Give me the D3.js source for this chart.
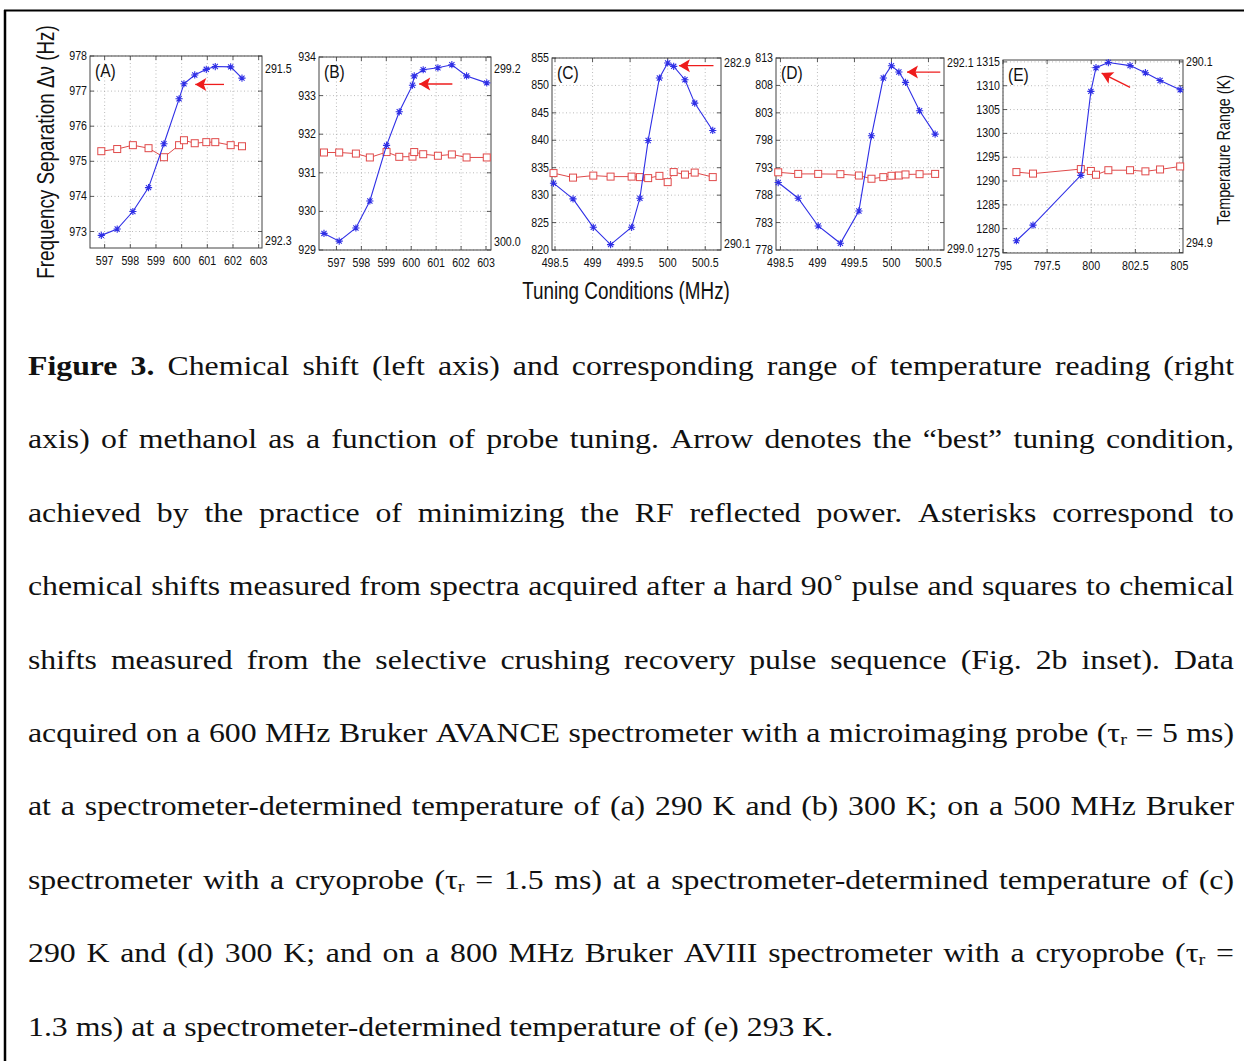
<!DOCTYPE html>
<html>
<head>
<meta charset="utf-8">
<script src="https://cdn.jsdelivr.net/npm/d3@7"></script>
<style>
  body { margin: 0; background: #fff; }
  svg { display: block; }
  .lbl { font-family: "Liberation Sans", Arial, sans-serif; fill: #111; }
  .cap { font-family: "Liberation Serif", "Times New Roman", serif; font-size: 26.5px; fill: #111; }
</style>
</head>
<body>
<svg id="fig" width="1244" height="1061"></svg>
<script>
// ---- values ----
const panelNames = ["(A)", "(B)", "(C)", "(D)", "(E)"];

// tuning (MHz), chemical shift (Hz), temperature range (K)
const tuneA  = [596.87, 597.49, 598.10, 598.71, 599.31, 599.90, 600.09, 600.51, 600.96, 601.31, 601.91, 602.35];
const shiftA = [972.89, 973.07, 973.57, 974.25, 975.50, 976.78, 977.21, 977.46, 977.62, 977.70, 977.69, 977.37];
const tempA  = [291.884, 291.874, 291.856, 291.870, 291.912, 291.856, 291.833, 291.847, 291.842, 291.842, 291.856, 291.861];

const tuneB  = [596.50, 597.11, 597.78, 598.34, 599.01, 599.52, 600.05, 600.12, 600.48, 601.07, 601.63, 602.22, 603.03];
const shiftB = [929.43, 929.23, 929.57, 930.27, 931.71, 932.58, 933.27, 933.51, 933.67, 933.72, 933.80, 933.51, 933.33];
const tempB  = [299.590, 299.590, 299.595, 299.613, 299.588, 299.610, 299.609, 299.588, 299.598, 299.605, 299.599, 299.613, 299.613];

const tuneC  = [498.48, 498.74, 499.01, 499.24, 499.52, 499.63, 499.74, 499.89, 500.00, 500.08, 500.23, 500.36, 500.60];
const shiftC = [832.18, 829.32, 824.14, 820.98, 824.14, 829.44, 839.97, 851.35, 854.09, 853.48, 851.04, 846.78, 841.79];
const tempC  = [287.28, 287.46, 287.38, 287.42, 287.42, 287.44, 287.48, 287.39, 287.64, 287.24, 287.34, 287.26, 287.44];

const tuneD  = [498.47, 498.74, 499.01, 499.31, 499.56, 499.73, 499.89, 500.00, 500.10, 500.19, 500.38, 500.59];
const shiftD = [790.30, 787.44, 782.38, 779.22, 785.12, 798.82, 809.35, 811.60, 810.44, 808.56, 803.38, 799.12];
const tempD  = [296.17, 296.23, 296.23, 296.24, 296.29, 296.41, 296.35, 296.30, 296.29, 296.25, 296.24, 296.23];

const tuneE  = [795.76, 796.70, 799.41, 799.98, 800.27, 800.97, 802.20, 803.07, 803.90, 805.04];
const shiftE = [1277.47, 1280.74, 1291.19, 1308.82, 1313.79, 1314.86, 1314.22, 1312.73, 1311.09, 1309.17];
const tempE  = [293.03, 293.07, 292.95, 293.00, 293.10, 292.98, 292.98, 293.01, 292.96, 292.88];

// axis domains and tick labels
const xDomains = [[596.43, 603.13], [596.30, 603.20], [498.46, 500.71], [498.44, 500.71], [795.0, 805.2]];
const yDomains = [[972.53, 978], [929, 934], [820, 855], [778, 813], [1274.9, 1315.4]];
const xTicks = [
  [597, 598, 599, 600, 601, 602, 603],
  [597, 598, 599, 600, 601, 602, 603],
  [498.5, 499, 499.5, 500, 500.5],
  [498.5, 499, 499.5, 500, 500.5],
  [795, 797.5, 800, 802.5, 805]
];
const yTicks = [
  [973, 974, 975, 976, 977, 978],
  [929, 930, 931, 932, 933, 934],
  [820, 825, 830, 835, 840, 845, 850, 855],
  [778, 783, 788, 793, 798, 803, 808, 813],
  [1275, 1280, 1285, 1290, 1295, 1300, 1305, 1310, 1315]
];
// right-axis labels (K) and the left-axis value they sit at
const rightTicks  = [["291.5", "292.3"], ["299.2", "300.0"], ["282.9", "290.1"], ["292.1", "299.0"], ["290.1", "294.9"]];
const rightAnchor = [[977.64, 972.74], [933.71, 929.23], [854.09, 821.10], [812.09, 778.31], [1315.0, 1277.12]];

// "best tuning" arrows: tail -> tip, in data units
const arrows = [
  [[601.65, 977.19], [600.53, 977.19]],
  [[601.65, 933.30], [600.32, 933.30]],
  [[500.61, 853.60], [500.15, 853.60]],
  [[500.66, 810.44], [500.21, 810.44]],
  [[802.20, 1309.67], [800.59, 1312.65]]
];

const captionLines = [
  "§Figure §3. Chemical shift (left axis) and corresponding range of temperature reading (right",
  "axis) of methanol as a function of probe tuning. Arrow denotes the “best” tuning condition,",
  "achieved by the practice of minimizing the RF reflected power. Asterisks correspond to",
  "chemical shifts measured from spectra acquired after a hard 90˚ pulse and squares to chemical",
  "shifts measured from the selective crushing recovery pulse sequence (Fig. 2b inset). Data",
  "acquired on a 600 MHz Bruker AVANCE spectrometer with a microimaging probe (τ_r = 5 ms)",
  "at a spectrometer-determined temperature of (a) 290 K and (b) 300 K; on a 500 MHz Bruker",
  "spectrometer with a cryoprobe (τ_r = 1.5 ms) at a spectrometer-determined temperature of (c)",
  "290 K and (d) 300 K; and on a 800 MHz Bruker AVIII spectrometer with a cryoprobe (τ_r =",
  "1.3 ms) at a spectrometer-determined temperature of (e) 293 K."
];

// ---- layout ----
const boxes = [
  {l: 90,  r: 262,  t: 56, b: 248},
  {l: 319, r: 491,  t: 57, b: 250},
  {l: 552, r: 721,  t: 58, b: 250},
  {l: 776, r: 944,  t: 58, b: 250},
  {l: 1003, r: 1183, t: 60, b: 253}
];
const tunes = [tuneA, tuneB, tuneC, tuneD, tuneE];
const shifts = [shiftA, shiftB, shiftC, shiftD, shiftE];
const temps = [tempA, tempB, tempC, tempD, tempE];

const blue = "#2f2fe6";
const red = "#e04a4a";
const NARROW = 0.82;   // condensed sans look
const WIDE = 1.2;      // caption glyphs are stretched

const svg = d3.select("#fig");

// open frame (top + left)
svg.append("line").attr("x1", 4).attr("x2", 1244).attr("y1", 10.5).attr("y2", 10.5)
  .attr("stroke", "#000").attr("stroke-width", 2);
svg.append("line").attr("x1", 5).attr("x2", 5).attr("y1", 10).attr("y2", 1061)
  .attr("stroke", "#000").attr("stroke-width", 2.5);

const asterisk = (s) => {
  const d = s * 0.72;
  return `M${-s},0H${s}M0,${-s}V${s}M${-d},${-d}L${d},${d}M${-d},${d}L${d},${-d}`;
};
const nt = (px, py) => `translate(${px},${py}) scale(${NARROW},1)`;

boxes.forEach((bx, i) => {
  const g = svg.append("g");
  const x = d3.scaleLinear().domain(xDomains[i]).range([bx.l, bx.r]);
  const y = d3.scaleLinear().domain(yDomains[i]).range([bx.b, bx.t]);
  const yr = d3.scaleLinear().domain(rightTicks[i].map(Number))
    .range(rightAnchor[i].map(v => y(v)));

  // grid
  g.selectAll(".gx").data(xTicks[i]).join("line")
    .attr("x1", d => x(d)).attr("x2", d => x(d)).attr("y1", bx.t).attr("y2", bx.b)
    .attr("stroke", "#aaa").attr("stroke-width", 0.8).attr("stroke-dasharray", "1,2.5");
  g.selectAll(".gy").data(yTicks[i]).join("line")
    .attr("x1", bx.l).attr("x2", bx.r).attr("y1", d => y(d)).attr("y2", d => y(d))
    .attr("stroke", "#aaa").attr("stroke-width", 0.8).attr("stroke-dasharray", "1,2.5");

  // inward ticks on all sides
  const tl = 4;
  g.selectAll(".tx").data(xTicks[i]).join("path")
    .attr("d", d => `M${x(d)},${bx.b}v${-tl}M${x(d)},${bx.t}v${tl}`)
    .attr("stroke", "#333").attr("stroke-width", 0.8);
  g.selectAll(".ty").data(yTicks[i]).join("path")
    .attr("d", d => `M${bx.l},${y(d)}h${tl}M${bx.r},${y(d)}h${-tl}`)
    .attr("stroke", "#333").attr("stroke-width", 0.8);

  // frame
  g.append("rect").attr("x", bx.l).attr("y", bx.t)
    .attr("width", bx.r - bx.l).attr("height", bx.b - bx.t)
    .attr("fill", "none").attr("stroke", "#444").attr("stroke-width", 1);

  // tick labels
  g.selectAll(".xl").data(xTicks[i]).join("text").attr("class", "lbl")
    .attr("transform", d => nt(x(d), bx.b + 16.5)).attr("text-anchor", "middle")
    .style("font-size", "13px").text(d => d);
  g.selectAll(".yl").data(yTicks[i]).join("text").attr("class", "lbl")
    .attr("transform", d => nt(bx.l - 3, y(d) + 4)).attr("text-anchor", "end")
    .style("font-size", "13px").text(d => d);
  g.selectAll(".rl").data(rightTicks[i]).join("text").attr("class", "lbl")
    .attr("transform", d => nt(bx.r + 3, yr(+d) + 4.5)).attr("text-anchor", "start")
    .style("font-size", "13px").text(d => d);

  // panel name
  g.append("text").attr("class", "lbl").attr("transform", nt(bx.l + 5, bx.t + 21))
    .style("font-size", "19px").text(panelNames[i]);

  const xs = tunes[i];
  // temperature series (squares)
  const tData = xs.map((v, k) => [v, temps[i][k]]);
  g.append("path").datum(tData)
    .attr("d", d3.line().x(d => x(d[0])).y(d => yr(d[1])))
    .attr("fill", "none").attr("stroke", red).attr("stroke-width", 1);
  g.selectAll(".sq").data(tData).join("rect")
    .attr("x", d => x(d[0]) - 3.5).attr("y", d => yr(d[1]) - 3.5)
    .attr("width", 7).attr("height", 7)
    .attr("fill", "#fff").attr("stroke", red).attr("stroke-width", 1);

  // shift series (asterisks)
  const sData = xs.map((v, k) => [v, shifts[i][k]]);
  g.append("path").datum(sData)
    .attr("d", d3.line().x(d => x(d[0])).y(d => y(d[1])))
    .attr("fill", "none").attr("stroke", blue).attr("stroke-width", 1.1);
  g.selectAll(".st").data(sData).join("path")
    .attr("transform", d => `translate(${x(d[0])},${y(d[1])})`)
    .attr("d", asterisk(3.6))
    .attr("fill", "none").attr("stroke", blue).attr("stroke-width", 1.1);

  // arrow
  const [tail, tip] = arrows[i];
  const x0 = x(tail[0]), y0 = y(tail[1]), x1 = x(tip[0]), y1 = y(tip[1]);
  const ang = Math.atan2(y0 - y1, x0 - x1) * 180 / Math.PI;
  g.append("line").attr("x1", x0).attr("y1", y0).attr("x2", x1).attr("y2", y1)
    .attr("stroke", "#ee1c1c").attr("stroke-width", 1.3);
  g.append("path")
    .attr("transform", `translate(${x1},${y1}) rotate(${ang})`)
    .attr("d", "M0,0L11,-6.5L8.5,0L11,6.5Z")
    .attr("fill", "#ee1c1c");
});

// axis titles
svg.append("text").attr("class", "lbl")
  .attr("transform", `translate(54,152) rotate(-90) scale(${NARROW},1)`).attr("text-anchor", "middle")
  .style("font-size", "23px").text("Frequency Separation Δν (Hz)");
svg.append("text").attr("class", "lbl")
  .attr("transform", nt(626, 299)).attr("text-anchor", "middle")
  .style("font-size", "23px").text("Tuning Conditions (MHz)");
svg.append("text").attr("class", "lbl")
  .attr("transform", `translate(1230,150) rotate(-90) scale(${NARROW},1)`).attr("text-anchor", "middle")
  .style("font-size", "17.5px").text("Temperature Range (K)");

// caption, justified word by word
const capLeft = 28, capRight = 1234, base0 = 375, lead = 73.4;
captionLines.forEach((line, li) => {
  const items = line.split(" ").map(w => {
    const isBold = w.startsWith("§");
    const parts = w.replace("§", "").split("_");
    const yb = base0 + li * lead;
    const t = svg.append("text").attr("class", "cap")
      .style("font-weight", isBold ? "bold" : "normal");
    t.append("tspan").text(parts[0]);
    if (parts.length > 1) {
      t.append("tspan").attr("dy", 3).style("font-size", "17px").text(parts[1][0]);
      if (parts[1].length > 1) t.append("tspan").attr("dy", -3).text(parts[1].slice(1));
    }
    return {t, yb, w: t.node().getComputedTextLength() * WIDE};
  });
  const total = d3.sum(items, d => d.w);
  const last = li === captionLines.length - 1;
  const space = last ? 6.6 * WIDE : (capRight - capLeft - total) / (items.length - 1);
  let cx = capLeft;
  items.forEach(it => {
    it.t.attr("transform", `translate(${cx},${it.yb}) scale(${WIDE},1)`);
    cx += it.w + space;
  });
});
</script>
</body>
</html>
